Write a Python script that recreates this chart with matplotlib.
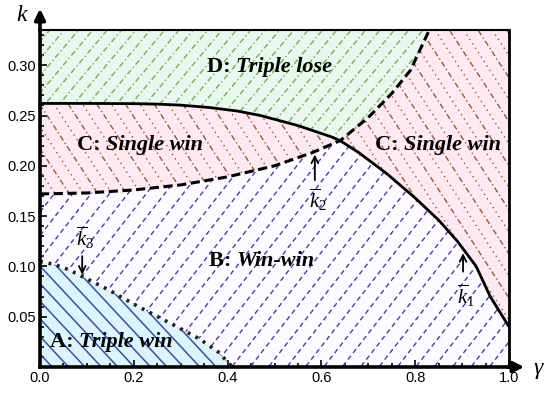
import matplotlib
matplotlib.use('Agg')
import matplotlib.pyplot as plt
import numpy as np
from matplotlib.patches import Polygon

plt.rcParams['mathtext.fontset'] = 'custom'
plt.rcParams['mathtext.rm'] = 'Liberation Serif'
plt.rcParams['mathtext.it'] = 'Liberation Serif:italic'
plt.rcParams['mathtext.bf'] = 'Liberation Serif:bold'

# boundary curves
k1_gamma = np.array([0.0, 0.1, 0.2, 0.25, 0.3, 0.36, 0.42, 0.47, 0.55, 0.62, 0.64, 0.68, 0.74,
                     0.8, 0.85, 0.89, 0.93, 0.96, 1.0])
k1_vals = np.array([0.262, 0.262, 0.2618, 0.2613, 0.2603, 0.258, 0.2545, 0.250, 0.240, 0.229, 0.225,
                    0.213, 0.192, 0.168, 0.146, 0.125, 0.100, 0.070, 0.040])

k2_gamma = np.array([0.0, 0.1, 0.2, 0.3, 0.4, 0.5, 0.58, 0.64, 0.7, 0.75, 0.79, 0.83])
k2_vals = np.array([0.172, 0.173, 0.176, 0.181, 0.189, 0.200, 0.213, 0.225, 0.248, 0.272, 0.295, 0.335])

k3_gamma = np.array([0.0, 0.03, 0.06, 0.09, 0.145, 0.21, 0.28, 0.34, 0.38, 0.41])
k3_vals = np.array([0.105, 0.102, 0.097, 0.090, 0.077, 0.060, 0.043, 0.028, 0.015, 0.0])

cross = 0.64
kmax = 0.335

region_labels = ['A:', 'B:', 'C:', 'C:', 'D:']
region_names = ['Triple win', 'Win-win', 'Single win', 'Single win', 'Triple lose']

fig = plt.figure(figsize=(5.5, 3.98), dpi=100)
ax = fig.add_axes([40 / 550, 31 / 398, 469 / 550, 337 / 398])
ax.set_xlim(0, 1)
ax.set_ylim(0, kmax)
W, H = 469.0, 337.0


def pts(g, v):
    return list(zip(g, v))


lo1 = k1_gamma <= cross
hi1 = k1_gamma >= cross
lo2 = k2_gamma <= cross
hi2 = k2_gamma >= cross

polyA = [(0, 0)] + pts(k3_gamma, k3_vals)
polyB = ([(k3_gamma[-1], 0), (1, 0)] + pts(k1_gamma[hi1][::-1], k1_vals[hi1][::-1])
         + pts(k2_gamma[lo2][::-1], k2_vals[lo2][::-1]) + pts(k3_gamma, k3_vals))
polyCl = pts(k2_gamma[lo2], k2_vals[lo2]) + pts(k1_gamma[lo1][::-1], k1_vals[lo1][::-1])
polyCr = (pts(k2_gamma[hi2], k2_vals[hi2]) + [(1, kmax)]
          + pts(k1_gamma[hi1][::-1], k1_vals[hi1][::-1]))
polyD = [(0, kmax)] + pts(k1_gamma[lo1], k1_vals[lo1]) + pts(k2_gamma[hi2][1:], k2_vals[hi2][1:])


def hatch(patch, angle, gap, color, ls, lw, alt=None):
    th = np.deg2rad(angle)
    d = np.array([np.cos(th), np.sin(th)])
    n = np.array([-np.sin(th), np.cos(th)])
    L = np.hypot(W, H)
    c = np.array([W / 2, H / 2])
    for i, o in enumerate(np.arange(-L, L, gap)):
        p0 = c + n * o - d * L
        p1 = c + n * o + d * L
        style = ls if (alt is None or i % 2 == 0) else alt
        ax.plot([p0[0] / W, p1[0] / W], [p0[1] / H, p1[1] / H], transform=ax.transAxes,
                color=color, ls=style, lw=lw, clip_path=patch, zorder=2)


fills = [
    (polyA, '#dcf5fb', -47, 12, '#3b4ea6', '-', 1.1, None),
    (polyB, '#fdfbff', 52, 14.5, '#4f3a9e', (0, (3.5, 2.5)), 1.0, None),
    (polyCl, '#fde9f1', -57, 12, '#9a5a30', (0, (4, 2, 1, 2)), 1.0, (0, (1, 2.8))),
    (polyCr, '#fde9f1', -57, 12, '#9a5a30', (0, (4, 2, 1, 2)), 1.0, (0, (1, 2.8))),
    (polyD, '#e8f8ee', 50, 11, '#77b04a', (0, (4, 2, 1, 2)), 1.0, None),
]
for poly, fc, ang, gap, col, ls, lw, alt in fills:
    p = Polygon(poly, closed=True, facecolor=fc, edgecolor='none', zorder=1)
    ax.add_patch(p)
    hatch(p, ang, gap, col, ls, lw, alt)

ax.plot(k1_gamma, k1_vals, color='black', lw=2.0, zorder=4, clip_on=False)
ax.plot(k2_gamma, k2_vals, color='black', lw=2.2, ls=(0, (3, 1.5)), zorder=4)
ax.plot(k3_gamma, k3_vals, color='#222222', lw=2.6, ls=(0, (0.8, 1.6)), zorder=4)

serif = 'Liberation Serif'
label_pos = [(0.021, 0.025), (0.36, 0.105), (0.079, 0.221), (0.714, 0.221), (0.356, 0.298)]
for (x, y), lab, name in zip(label_pos, region_labels, region_names):
    t = ax.text(x, y, lab + ' ', family=serif, fontweight='bold', fontsize=16,
                ha='left', va='center', zorder=5)
    ax.annotate(name, xy=(1, 0), xycoords=t, va='bottom', ha='left', family=serif,
                fontweight='bold', style='italic', fontsize=16, zorder=5)

arrows = [
    (0.902, 0.092, 0.116, r'$\overline{k}_1$', 0.071),
    (0.586, 0.183, 0.214, r'$\overline{k}_2$', 0.166),
    (0.09, 0.113, 0.089, r'$\overline{k}_3$', 0.128),
]
for gx, y0, y1, txt, ty in arrows:
    ax.annotate('', xy=(gx, y1), xytext=(gx, y0),
                arrowprops=dict(arrowstyle='->', lw=1.3, color='black', mutation_scale=12), zorder=6)
    ax.text(gx + 0.006, ty, txt, fontsize=15, ha='center', va='center', zorder=6)

ax.set_xticks(np.arange(0, 1.01, 0.2))
ax.set_xticks(np.arange(0, 1.01, 0.05), minor=True)
ax.set_yticks(np.arange(0.05, 0.31, 0.05))
ax.set_yticks(np.arange(0, 0.331, 0.01), minor=True)
ax.set_xticklabels([f'{v:.1f}' for v in np.arange(0, 1.01, 0.2)])
ax.set_yticklabels([f'{v:.2f}' for v in np.arange(0.05, 0.31, 0.05)])
for lab in ax.get_xticklabels() + ax.get_yticklabels():
    lab.set_family('Liberation Sans')
    lab.set_fontsize(10.5)
ax.tick_params(which='both', direction='in', color='black', width=1.2, pad=3)
ax.tick_params(which='major', length=5)
ax.tick_params(which='minor', length=3)
ax.tick_params(top=False, right=False, which='both')

ax.spines['left'].set_linewidth(2.6)
ax.spines['bottom'].set_linewidth(2.6)
ax.spines['top'].set_linewidth(1.5)
ax.spines['right'].set_linewidth(2.0)
for s in ax.spines.values():
    s.set_zorder(7)

ax.annotate('', xy=(0, 1 + 24 / H), xytext=(0, 0.99), xycoords='axes fraction',
            arrowprops=dict(arrowstyle='-|>', lw=2.6, color='black', mutation_scale=16),
            annotation_clip=False)
ax.annotate('', xy=(1 + 18 / W, 0), xytext=(0.99, 0), xycoords='axes fraction',
            arrowprops=dict(arrowstyle='-|>', lw=2.6, color='black', mutation_scale=16),
            annotation_clip=False)
ax.text(-18 / W, 1 + 16 / H, '$k$', transform=ax.transAxes, fontsize=17, ha='center', va='center')
ax.text(1 + 30 / W, -2 / H, r'$\gamma$', transform=ax.transAxes, fontsize=17, ha='center', va='center')

fig.savefig('out.png', dpi=100)
plt.close(fig)
